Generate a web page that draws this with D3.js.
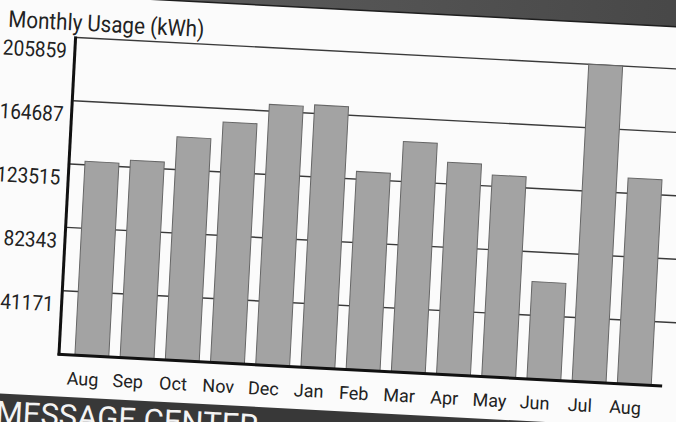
<!DOCTYPE html>
<html>
<head>
<meta charset="utf-8">
<script src="https://cdn.jsdelivr.net/npm/d3@7"></script>
<style>
  body { margin: 0; background: #fbfbfb; }
  svg { display: block; }
</style>
</head>
<body>
<div id="chart"></div>
<script>
// data
const months = ["Aug", "Sep", "Oct", "Nov", "Dec", "Jan", "Feb", "Mar", "Apr", "May", "Jun", "Jul", "Aug"];
const usage = [125800, 128000, 144800, 156000, 169000, 170200, 128500, 149500, 137500, 130800, 63000, 205859, 133500];
const yTicks = [41171, 82343, 123515, 164687, 205859];
const title = "Monthly Usage (kWh)";
const footer = "MESSAGE CENTER";

const width = 676;
const height = 422;

const svg = d3.select("#chart")
    .append("svg")
    .attr("width", width)
    .attr("height", height);

svg.append("rect")
    .attr("width", width)
    .attr("height", height)
    .attr("fill", "#fbfbfb");

// the screen is photographed slightly tilted
const g = svg.append("g")
    .attr("transform", "rotate(3, 60, 354)");

const plot = { left: 60, right: 667, top: 37, bottom: 354 };

const x = d3.scaleBand()
    .domain(d3.range(months.length))
    .range([plot.left, plot.right])
    .paddingInner(0.25)
    .paddingOuter(0.33);

const y = d3.scaleLinear()
    .domain([0, d3.max(usage)])
    .range([plot.bottom, plot.top]);

// dark header strip above the chart
const grad = svg.append("defs").append("linearGradient")
    .attr("id", "band")
    .attr("x1", 0).attr("x2", 1).attr("y1", 0).attr("y2", 0);
grad.append("stop").attr("offset", "0%").attr("stop-color", "#6a6a6a");
grad.append("stop").attr("offset", "100%").attr("stop-color", "#3e3e3e");

g.append("rect")
    .attr("x", -200).attr("y", -300)
    .attr("width", 1100).attr("height", 295)
    .attr("fill", "url(#band)");
g.append("line")
    .attr("x1", -200).attr("x2", 900)
    .attr("y1", -5).attr("y2", -5)
    .attr("stroke", "#1e1e1e")
    .attr("stroke-width", 1.5);

// grid lines (behind the bars)
g.selectAll(".grid")
    .data(yTicks)
    .enter()
    .append("line")
    .attr("class", "grid")
    .attr("x1", plot.left)
    .attr("x2", 680)
    .attr("y1", d => y(d))
    .attr("y2", d => y(d))
    .attr("stroke", "#3a3a3a")
    .attr("stroke-width", 1.4);

// bars
g.selectAll(".bar")
    .data(usage)
    .enter()
    .append("rect")
    .attr("class", "bar")
    .attr("x", (d, i) => x(i))
    .attr("y", d => y(d))
    .attr("width", x.bandwidth())
    .attr("height", d => y(0) - y(d))
    .attr("fill", "#a3a3a3")
    .attr("stroke", "#666")
    .attr("stroke-width", 1);

// axes
g.append("line")
    .attr("x1", plot.left - 1).attr("x2", plot.left - 1)
    .attr("y1", plot.top - 1).attr("y2", plot.bottom + 1.5)
    .attr("stroke", "#111")
    .attr("stroke-width", 3);
g.append("line")
    .attr("x1", plot.left - 2.5).attr("x2", 663)
    .attr("y1", plot.bottom + 0.5).attr("y2", plot.bottom + 0.5)
    .attr("stroke", "#111")
    .attr("stroke-width", 3);

// y tick labels, hanging just under each grid line
g.selectAll(".ylab")
    .data(yTicks)
    .enter()
    .append("text")
    .attr("class", "ylab")
    .attr("transform", d => `translate(${plot.left - 9}, ${y(d) + 21}) scale(1, 1.12)`)
    .attr("text-anchor", "end")
    .style("font-family", "Roboto, sans-serif")
    .style("font-size", "19px")
    .style("fill", "#222")
    .text(d => d);

// month labels
g.selectAll(".xlab")
    .data(months)
    .enter()
    .append("text")
    .attr("class", "xlab")
    .attr("x", (d, i) => x(i) + x.bandwidth() / 2 - 8)
    .attr("y", plot.bottom + 30)
    .attr("text-anchor", "middle")
    .style("font-family", "Roboto, sans-serif")
    .style("font-size", "18px")
    .style("fill", "#222")
    .text(d => d);

// title
g.append("text")
    .attr("transform", "translate(-9, 30) scale(1, 1.12)")
    .style("font-family", "Roboto, sans-serif")
    .style("font-size", "20.6px")
    .style("fill", "#222")
    .text(title);

// dark footer strip
g.append("rect")
    .attr("x", -200).attr("y", 396.5)
    .attr("width", 1100).attr("height", 300)
    .attr("fill", "#383838");
g.append("text")
    .attr("x", -1)
    .attr("y", 426)
    .style("font-family", "Roboto, sans-serif")
    .style("font-size", "31px")
    .style("fill", "#f4f4f4")
    .text(footer);
</script>
</body>
</html>
